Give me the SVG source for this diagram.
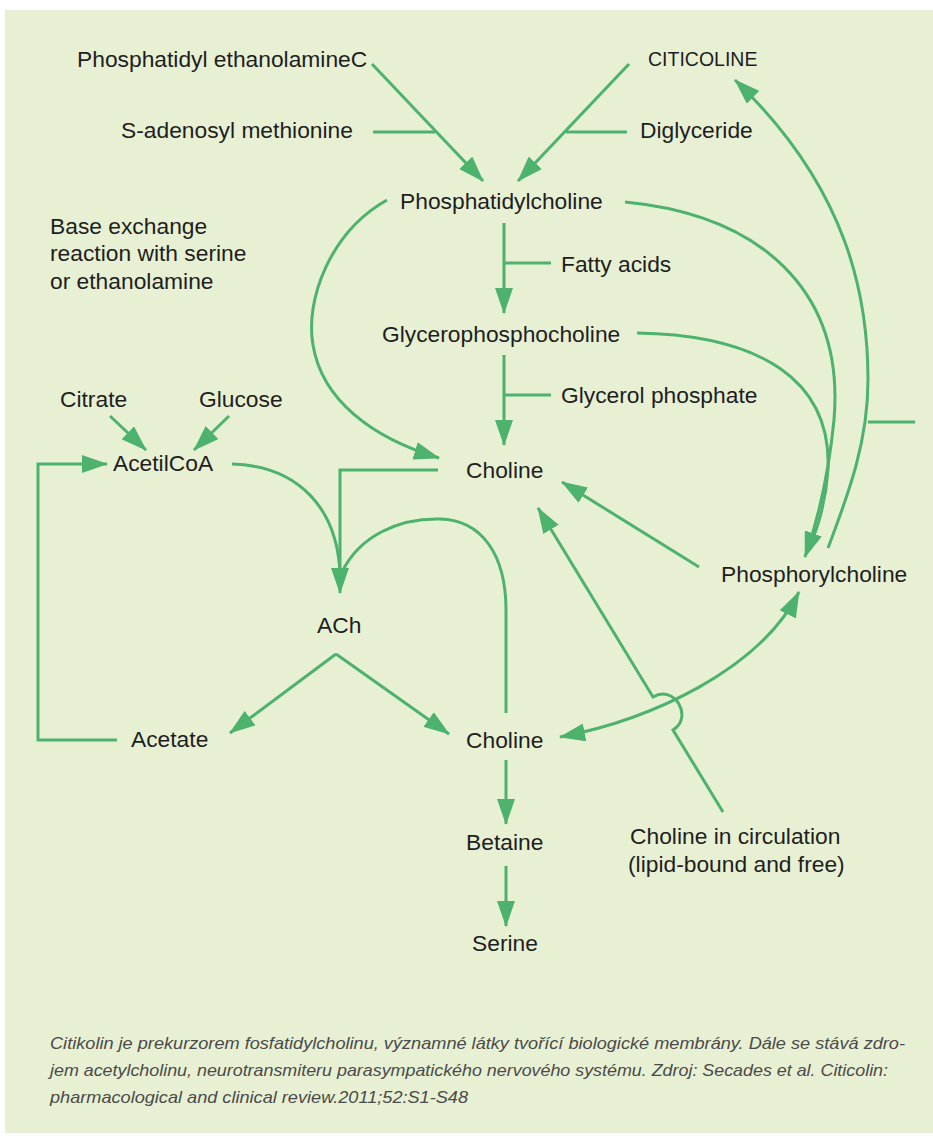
<svg xmlns="http://www.w3.org/2000/svg" width="933" height="1142" viewBox="0 0 933 1142">
  <style>
    .lbl { font-family: "Liberation Sans", Arial, sans-serif; font-size: 22.8px; fill: #1e1e1e; }
    .cap { font-family: "Liberation Sans", Arial, sans-serif; font-size: 17px; font-style: italic; fill: #4a4a4a; }
    .c { fill: none; stroke: #4cb26e; stroke-width: 3; }
    .a { marker-end: url(#ah); }
  </style>
  <defs>
    <marker id="ah" markerUnits="userSpaceOnUse" markerWidth="26" markerHeight="18" refX="25" refY="9" orient="auto">
      <path d="M0,0 L26,9 L0,18 z" fill="#4cb26e"/>
    </marker>
    <marker id="as" markerUnits="userSpaceOnUse" markerWidth="26" markerHeight="18" refX="25" refY="9" orient="auto-start-reverse">
      <path d="M0,0 L26,9 L0,18 z" fill="#4cb26e"/>
    </marker>
  </defs>
  <rect x="5" y="10" width="928" height="1123" fill="#e8f0d3"/>

  <g id="connectors">
    <path class="c a" d="M372,64 L483,181"/>
    <path class="c" d="M373,132 H435"/>
    <path class="c a" d="M629,64 L518,181"/>
    <path class="c" d="M627,132 H566"/>
    <path class="c a" d="M387,200 C330,232 305,300 313,345 C322,400 372,438 439,458"/>
    <path class="c a" d="M504,223 V313"/>
    <path class="c" d="M504,263 H551"/>
    <path class="c a" d="M504,355 V445"/>
    <path class="c" d="M504,395 H551"/>
    <path class="c a" d="M625,202 C760,215 845,290 834,420 C829,470 818,520 805,557"/>
    <path class="c" d="M637,333 C760,335 832,380 828,470 C826,500 818,528 810,545"/>
    <path class="c a" d="M828,548 C850,490 868,440 868,380 C868,300 850,190 735,80"/>
    <path class="c" d="M868,422 H915"/>
    <path class="c a" d="M699,567 L562,482"/>
    <path class="c a" d="M723,812 L673,730 C694,717 674,684 653,697 L538,508"/>
    <path class="c a" style="marker-start:url(#as)" d="M560,737 C650,720 760,670 799,592"/>
    <path class="c a" d="M438,470 H340 V593"/>
    <path class="c" d="M232,464 C300,466 338,510 340,575"/>
    <path class="c" d="M506,713 V610 C506,555 482,520 440,519 C400,518 360,535 342,572"/>
    <path class="c a" d="M336,654 L230,733"/>
    <path class="c a" d="M336,654 L449,734"/>
    <path class="c a" d="M117,740 H38 V464 H107"/>
    <path class="c a" d="M110,416 L146,450"/>
    <path class="c a" d="M229,416 L194,450"/>
    <path class="c a" d="M506,760 V824"/>
    <path class="c a" d="M506,866 V926"/>
  </g>

  <g id="n-pe"><text class="lbl" x="77" y="67">Phosphatidyl ethanolamineC</text></g>
  <g id="n-citicoline"><text class="lbl" x="648" y="66" style="font-size:19.5px">CITICOLINE</text></g>
  <g id="n-sam"><text class="lbl" x="121" y="138">S-adenosyl methionine</text></g>
  <g id="n-diglyceride"><text class="lbl" x="640" y="138">Diglyceride</text></g>
  <g id="n-pc"><text class="lbl" x="400" y="209">Phosphatidylcholine</text></g>
  <g id="n-base"><text class="lbl" x="50" y="234">Base exchange</text><text class="lbl" x="50" y="261">reaction with serine</text><text class="lbl" x="50" y="289">or ethanolamine</text></g>
  <g id="n-fatty"><text class="lbl" x="561" y="272">Fatty acids</text></g>
  <g id="n-gpc"><text class="lbl" x="382" y="342">Glycerophosphocholine</text></g>
  <g id="n-glyp"><text class="lbl" x="561" y="403">Glycerol phosphate</text></g>
  <g id="n-citrate"><text class="lbl" x="60" y="407">Citrate</text></g>
  <g id="n-glucose"><text class="lbl" x="199" y="407">Glucose</text></g>
  <g id="n-choline1"><text class="lbl" x="466" y="478">Choline</text></g>
  <g id="n-acetilcoa"><text class="lbl" x="113" y="471">AcetilCoA</text></g>
  <g id="n-phosphorylcholine"><text class="lbl" x="721" y="582">Phosphorylcholine</text></g>
  <g id="n-ach"><text class="lbl" x="317" y="633">ACh</text></g>
  <g id="n-acetate"><text class="lbl" x="131" y="747">Acetate</text></g>
  <g id="n-choline2"><text class="lbl" x="466" y="748">Choline</text></g>
  <g id="n-betaine"><text class="lbl" x="466" y="850">Betaine</text></g>
  <g id="n-circ"><text class="lbl" x="630" y="844">Choline in circulation</text><text class="lbl" x="628" y="872">(lipid-bound and free)</text></g>
  <g id="n-serine"><text class="lbl" x="472" y="951">Serine</text></g>

  <g id="caption">
    <text class="cap" x="50" y="1049" textLength="855" lengthAdjust="spacingAndGlyphs">Citikolin je prekurzorem fosfatidylcholinu, významné látky tvořící biologické membrány. Dále se stává zdro-</text>
    <text class="cap" x="50" y="1076" textLength="838" lengthAdjust="spacingAndGlyphs">jem acetylcholinu, neurotransmiteru parasympatického nervového systému. Zdroj: Secades et al. Citicolin:</text>
    <text class="cap" x="50" y="1103" textLength="418" lengthAdjust="spacingAndGlyphs">pharmacological and clinical review.2011;52:S1-S48</text>
  </g>
</svg>
